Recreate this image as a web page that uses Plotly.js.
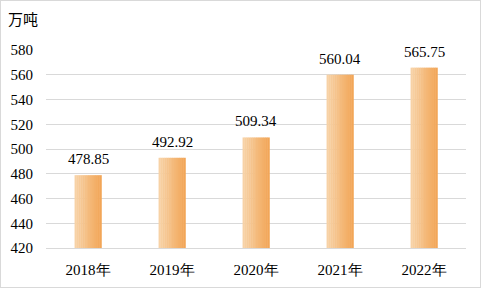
<!DOCTYPE html>
<html><head><meta charset="utf-8">
<script src="https://cdn.plot.ly/plotly-3.0.1.min.js"></script>
<style>
html,body{margin:0;padding:0;background:#fff;font-family:'Liberation Serif';}
#chart{width:481px;height:288px;box-sizing:border-box;border:1px solid #d9d9d9;}
#warm{position:absolute;left:-200px;top:0;font-family:'Liberation Serif';font-size:15px;}
#warm::before{content:"0";}
</style>
</head><body><div id="warm"></div><div id="chart"></div>
<script>
const categories = ["2018年","2019年","2020年","2021年","2022年"];
const values = [478.85, 492.92, 509.34, 560.04, 565.75];
const valueLabels = ["478.85","492.92","509.34","560.04","565.75"];
const yTicks = [420,440,460,480,500,520,540,560,580];
const unitLabel = "万吨";

const FONT = "Liberation Serif";
function draw() {
  const N = 14, barW = 0.32, sw = barW / N;
  const c0 = [247, 210, 166], c1 = [242, 166, 88];
  const traces = [];
  for (let i = 0; i < N; i++) {
    const t = i / (N - 1);
    const c = c0.map((v, k) => Math.round(v + (c1[k] - v) * t));
    traces.push({
      type: 'bar', x: categories, y: values.map(v => v - 420), base: 420,
      width: sw + 0.004, offset: -barW / 2 + i * sw,
      marker: {color: `rgb(${c.join(',')})`, line: {width: 0}},
      hoverinfo: 'skip', showlegend: false
    });
  }
  const annotations = categories.map((c, i) => ({
    x: c, y: values[i], xref: 'x', yref: 'y', text: valueLabels[i],
    showarrow: false, yanchor: 'bottom', yshift: 6,
    font: {family: FONT, size: 15, color: '#000'}
  }));
  annotations.push({
    xref: 'paper', yref: 'paper', x: -0.095, y: 1.1616, xanchor: 'left', yanchor: 'middle',
    text: unitLabel, showarrow: false,
    font: {family: "Noto Sans CJK SC", size: 15, color: '#000'}
  });
  Plotly.newPlot('chart', traces, {
    width: 479, height: 286,
    margin: {l: 45, r: 14, t: 49, b: 39},
    paper_bgcolor: '#fff', plot_bgcolor: '#fff',
    barmode: 'overlay',
    xaxis: {type: 'category', showgrid: false, zeroline: false, showline: true, linecolor: '#d9d9d9', linewidth: 1,
      ticks: 'outside', ticklen: 8, tickcolor: 'rgba(0,0,0,0)',
      tickfont: {family: FONT, size: 15, color: '#000'}},
    yaxis: {range: [420, 580], tickvals: yTicks, showgrid: true, gridcolor: '#d9d9d9', gridwidth: 1,
      zeroline: false, showline: false, ticks: 'outside', ticklen: 9, tickcolor: 'rgba(0,0,0,0)',
      tickfont: {family: FONT, size: 15, color: '#000'}},
    annotations: annotations
  }, {displayModeBar: false, staticPlot: true});
}
try {
  const ctx = document.createElement('canvas').getContext('2d');
  ctx.font = '15px "Liberation Serif"'; ctx.measureText('0123456789.');
} catch (e) {}
void document.getElementById('warm').offsetWidth;
draw();
</script></body></html>
